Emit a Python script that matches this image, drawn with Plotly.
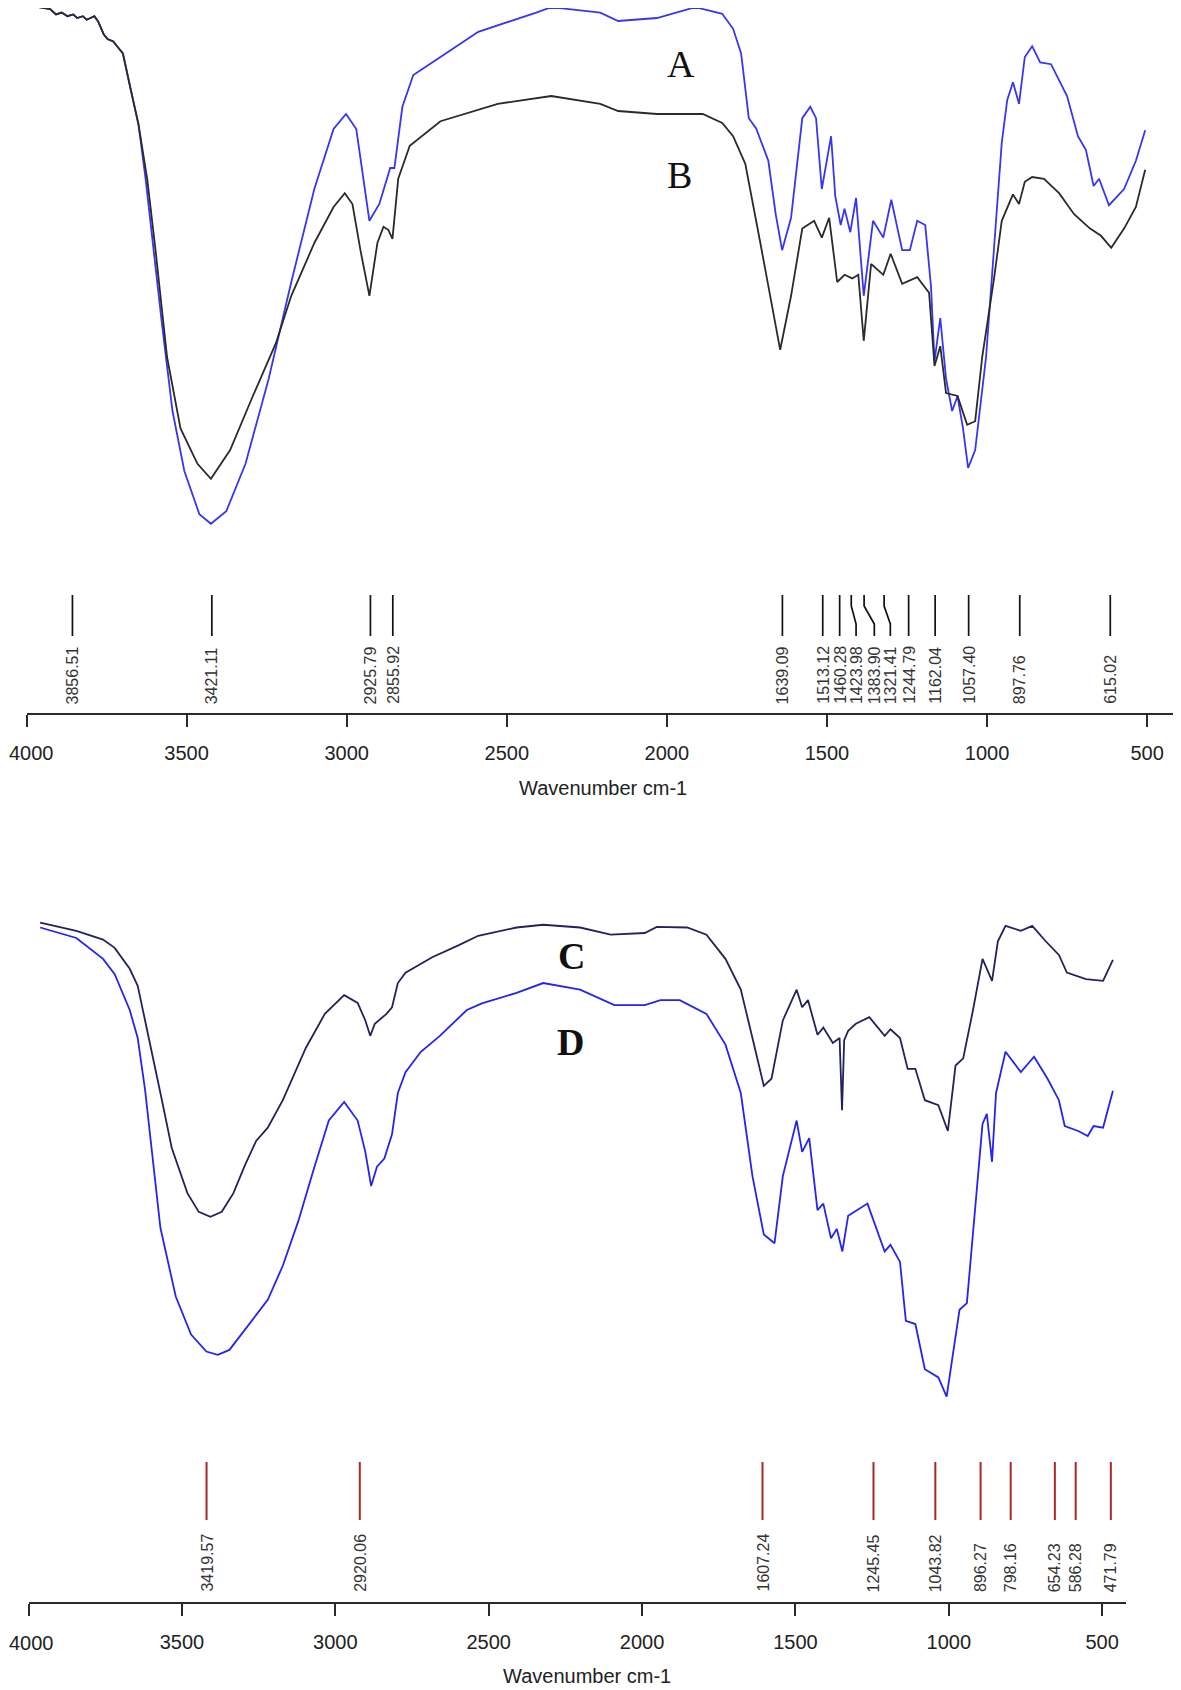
import plotly.graph_objects as go

# ---------------- data ----------------
# Panel 1: spectra A (blue) and B (black); wavenumber in cm-1, transmittance (arb. %)
A_wn = [3998, 3962, 3926, 3908, 3890, 3872, 3854, 3842, 3824, 3812, 3800, 3788, 3776, 3759, 3747,
        3729, 3717, 3699, 3675, 3650, 3628, 3603, 3578, 3544, 3507, 3460, 3424, 3376,
        3316, 3244, 3173, 3101, 3041, 3002, 2970, 2929, 2898, 2864, 2851, 2826, 2792, 2707, 2589,
        2408, 2361, 2208, 2152, 2031, 1911, 1827, 1793, 1768, 1744, 1721, 1683, 1660, 1640, 1612,
        1577, 1552, 1534, 1516, 1487, 1474, 1457, 1445, 1427, 1409, 1385, 1356, 1324, 1299, 1265,
        1241, 1218, 1193, 1175, 1164, 1146, 1128, 1109, 1092, 1075, 1059, 1037, 1003, 978, 954,
        937, 919, 900, 882, 859, 834, 800, 750, 716, 691, 667, 650, 619, 572, 535, 506]
A_T = [99.4, 98.8, 98.5, 97.6, 97.9, 97.3, 97.6, 97.0, 97.3, 96.7, 97.0, 97.3, 96.4, 94.3, 93.5,
       93.1, 92.3, 91.1, 85.2, 79.2, 70.2, 58.3, 46.5, 31.5, 21.5, 14.3, 12.7, 14.8,
       22.7, 36.8, 53.0, 68.5, 78.5, 81.0, 78.5, 63.2, 66.0, 72.0, 72.0, 82.2, 87.5, 90.5, 94.7,
       97.9, 98.8, 97.9, 96.5, 97.0, 98.8, 97.7, 95.2, 91.1, 80.3, 78.6, 73.2, 64.3, 58.3, 63.7,
       80.3, 82.2, 80.3, 68.5, 77.3, 67.3, 62.5, 65.2, 61.3, 67.0, 50.7, 63.2, 60.4, 66.7, 58.3,
       58.3, 63.2, 62.5, 52.3, 39.8, 47.0, 36.9, 31.5, 34.0, 28.6, 22.0, 25.0, 40.5, 58.3, 76.2,
       83.3, 86.3, 82.7, 90.5, 92.3, 89.6, 89.3, 84.0, 77.3, 75.0, 69.0, 70.2, 65.8, 68.5, 73.2, 78.3]

B_wn = [3998, 3962, 3926, 3908, 3890, 3872, 3854, 3842, 3824, 3812, 3800, 3788, 3776, 3759, 3747,
        3729, 3717, 3699, 3675, 3650, 3623, 3597, 3561, 3519, 3466, 3424, 3364, 3293,
        3221, 3173, 3101, 3041, 3006, 2982, 2957, 2929, 2904, 2885, 2870, 2857, 2839, 2803, 2707,
        2528, 2361, 2208, 2152, 2031, 1888, 1827, 1793, 1755, 1708, 1672, 1646, 1612, 1577, 1540,
        1516, 1493, 1468, 1445, 1421, 1402, 1385, 1362, 1324, 1301, 1265, 1218, 1181, 1164, 1146,
        1128, 1092, 1062, 1037, 1015, 978, 954, 919, 900, 882, 859, 822, 775, 728, 678, 644, 612,
        572, 535, 506]
B_T = [99.4, 98.8, 98.5, 97.6, 97.9, 97.3, 97.6, 97.0, 97.3, 96.7, 97.0, 97.3, 96.4, 94.3, 93.5,
       93.1, 92.3, 91.1, 85.2, 79.2, 70.2, 58.3, 40.5, 28.6, 22.7, 20.2, 25.0, 34.0,
       42.8, 50.7, 59.5, 65.5, 67.8, 66.0, 58.3, 50.7, 59.5, 62.2, 61.7, 60.2, 70.2, 75.7, 79.8,
       82.7, 84.0, 82.7, 81.5, 81.0, 81.0, 79.5, 77.3, 72.7, 59.5, 49.4, 41.7, 50.7, 61.9, 63.2,
       60.4, 63.7, 53.0, 54.2, 53.6, 54.2, 43.2, 56.0, 54.2, 57.7, 52.7, 53.8, 51.2, 39.0, 42.3,
       34.5, 34.0, 29.2, 29.8, 40.5, 53.6, 63.2, 67.6, 66.0, 69.7, 70.5, 70.2, 67.8, 64.3, 61.9,
       60.7, 58.7, 61.9, 65.5, 71.7]

# Panel 2: spectra C (navy) and D (blue)
C_wn = [3962, 3844, 3757, 3719, 3670, 3644, 3620, 3595, 3570, 3533, 3482, 3445, 3407, 3370, 3332,
        3295, 3258, 3220, 3171, 3096, 3034, 2971, 2927, 2902, 2886, 2871, 2833, 2815, 2796, 2771,
        2684, 2597, 2534, 2409, 2322, 2202, 2102, 1991, 1952, 1853, 1790, 1728, 1678, 1640, 1603,
        1578, 1541, 1496, 1478, 1459, 1428, 1409, 1378, 1356, 1348, 1341, 1328, 1303, 1259, 1209,
        1190, 1159, 1134, 1109, 1078, 1034, 1003, 978, 953, 921, 890, 859, 840, 815, 765, 728, 684,
        641, 615, 553, 497, 465]
C_T = [95.9, 94.4, 92.8, 91.3, 87.5, 84.4, 78.1, 71.8, 64.9, 54.9, 46.7, 43.3, 42.4, 43.3, 46.7,
       51.7, 56.2, 58.6, 63.6, 73.1, 79.3, 82.7, 81.3, 78.1, 75.3, 77.5, 79.3, 80.5, 84.9, 86.8,
       89.6, 91.8, 93.5, 95.0, 95.5, 95.0, 93.7, 94.0, 95.1, 95.0, 93.7, 89.3, 83.7, 74.9, 66.2,
       67.5, 78.1, 83.7, 80.5, 81.8, 75.5, 76.8, 74.0, 74.9, 61.8, 74.5, 76.2, 77.5, 78.7, 75.3,
       76.5, 74.9, 69.3, 69.3, 63.6, 62.7, 58.0, 69.9, 71.2, 80.0, 89.3, 85.3, 92.5, 95.3, 94.4,
       95.3, 92.5, 90.0, 86.8, 85.6, 85.3, 89.1]

D_wn = [3962, 3844, 3757, 3719, 3670, 3644, 3620, 3595, 3570, 3520, 3470, 3420, 3383, 3345, 3282,
        3220, 3171, 3120, 3070, 3021, 2971, 2927, 2902, 2883, 2864, 2840, 2815, 2796, 2771, 2721,
        2659, 2571, 2522, 2409, 2322, 2202, 2090, 1991, 1940, 1877, 1790, 1728, 1678, 1640, 1603,
        1568, 1541, 1496, 1478, 1455, 1428, 1409, 1384, 1365, 1347, 1328, 1265, 1209, 1190, 1159,
        1140, 1109, 1078, 1034, 1007, 984, 965, 941, 915, 890, 876, 859, 846, 815, 765, 722, 678,
        641, 622, 578, 547, 528, 497, 465]
D_T = [95.0, 93.1, 89.3, 86.5, 80.0, 74.9, 65.5, 53.0, 40.4, 27.9, 21.0, 17.9, 17.3, 18.2, 22.9,
       27.3, 33.5, 41.7, 51.1, 59.9, 63.3, 59.9, 54.2, 48.0, 51.5, 53.0, 57.4, 64.9, 68.7, 72.4,
       75.3, 80.0, 81.2, 83.1, 84.9, 83.7, 80.9, 80.9, 81.8, 81.8, 79.3, 73.7, 64.9, 49.8, 39.2,
       37.6, 49.8, 59.9, 54.2, 56.7, 43.6, 44.8, 38.5, 40.2, 36.1, 42.6, 44.8, 36.1, 37.3, 34.2,
       23.5, 22.9, 14.7, 13.2, 9.7, 18.5, 25.5, 26.7, 43.6, 59.3, 61.1, 52.4, 64.9, 72.4, 68.7,
       71.5, 67.5, 63.6, 58.9, 58.0, 57.1, 58.9, 58.6, 65.3]

top_peaks = [3856.51, 3421.11, 2925.79, 2855.92, 1639.09, 1513.12, 1460.28, 1423.98, 1383.90,
             1321.41, 1244.79, 1162.04, 1057.40, 897.76, 615.02]
bottom_peaks = [3419.57, 2920.06, 1607.24, 1245.45, 1043.82, 896.27, 798.16, 654.23, 586.28, 471.79]

tick_vals = [4000, 3500, 3000, 2500, 2000, 1500, 1000, 500]
x_title = "Wavenumber cm-1"

# ---------------- layout helpers ----------------
# the page body has an 8px default margin: the figure is offset by it, so the
# layout is given in page pixels and converted to figure-paper coordinates.
OFF = 8
W, H = 1181 - OFF, 1682


def fx(p):
    return (p - OFF) / W


def fy(p):
    return 1 - (p - OFF) / H


# top panel: T = (600 - page_y) / 6 ; its plot area starts at the figure top (page y = OFF)
top_range = [0, (600 - OFF) / 6]

# label positions of crowded peaks (where the connector line bends to)
label_shift = {1423.98: 1409, 1383.90: 1352, 1321.41: 1302}

# the leftmost tick label sits on the page edge -> drawn as an annotation
tick_text = ["" if v == tick_vals[0] else str(v) for v in tick_vals]

fig = go.Figure()
fig.add_trace(go.Scatter(x=A_wn, y=A_T, mode="lines", line=dict(color="#3636f2", width=1.8),
                         xaxis="x", yaxis="y", showlegend=False, name="A"))
fig.add_trace(go.Scatter(x=B_wn, y=B_T, mode="lines", line=dict(color="#2a2a2a", width=1.8),
                         xaxis="x", yaxis="y", showlegend=False, name="B"))
fig.add_trace(go.Scatter(x=C_wn, y=C_T, mode="lines", line=dict(color="#22225e", width=1.8),
                         xaxis="x2", yaxis="y2", showlegend=False, name="C"))
fig.add_trace(go.Scatter(x=D_wn, y=D_T, mode="lines", line=dict(color="#2424f0", width=1.8),
                         xaxis="x2", yaxis="y2", showlegend=False, name="D"))

axis_font = dict(family="Liberation Sans, Arial, sans-serif", size=20, color="#222222")
common_x = dict(showline=True, linecolor="#2a2a2a", linewidth=2, ticks="outside", ticklen=12,
                tickwidth=2, tickcolor="#2a2a2a", tickvals=tick_vals, ticktext=tick_text,
                showgrid=False, zeroline=False, tickfont=axis_font, ticklabelstandoff=9,
                fixedrange=True, automargin=False)

fig.update_layout(
    template="none",
    width=W, height=H, margin=dict(l=0, r=0, t=0, b=0, pad=0, autoexpand=False),
    paper_bgcolor="white", plot_bgcolor="rgba(0,0,0,0)",
    xaxis=dict(domain=[fx(26.5), fx(1178)], range=[4000, 403.5], anchor="free",
               position=fy(714), **common_x),
    yaxis=dict(domain=[fy(600), 1], range=top_range, visible=False, anchor="x",
               automargin=False),
    xaxis2=dict(domain=[fx(28.5), fx(1126)], range=[4000, 422.3], anchor="free",
                position=fy(1603), **common_x),
    yaxis2=dict(domain=[fy(1450), fy(900)], range=[0, 100], visible=False, anchor="x2",
                automargin=False),
)

shapes = []
annotations = []
lab_font = dict(family="Liberation Sans, Arial, sans-serif", size=16, color="#333333")

for p in top_peaks:
    lx = label_shift.get(p, p)
    if lx == p:
        shapes.append(dict(type="line", xref="x", yref="paper", x0=p, x1=p,
                           y0=fy(595), y1=fy(636), line=dict(color="#111111", width=1.7)))
    else:
        path = (f"M {p},{fy(595)} L {p},{fy(606)} L {lx},{fy(624)} L {lx},{fy(636)}")
        shapes.append(dict(type="path", xref="x", yref="paper", path=path,
                           line=dict(color="#111111", width=1.7)))
    annotations.append(dict(x=lx, xref="x", y=fy(706), yref="paper", text=f"{p:.2f}",
                            textangle=-90, xanchor="center", yanchor="bottom",
                            showarrow=False, font=lab_font))

for p in bottom_peaks:
    shapes.append(dict(type="line", xref="x2", yref="paper", x0=p, x1=p,
                       y0=fy(1462), y1=fy(1520), line=dict(color="#a52a2a", width=2)))
    annotations.append(dict(x=p, xref="x2", y=fy(1594), yref="paper", text=f"{p:.2f}",
                            textangle=-90, xanchor="center", yanchor="bottom",
                            showarrow=False, font=lab_font))

# leftmost tick labels
for yy in (753, 1643):
    annotations.append(dict(x=0, y=fy(yy), xref="paper", yref="paper", text=str(tick_vals[0]),
                            showarrow=False, font=axis_font, xanchor="left", yanchor="middle",
                            borderpad=0))

# axis titles
annotations.append(dict(x=fx(603), y=fy(788), xref="paper", yref="paper", text=x_title,
                        showarrow=False, font=axis_font, xanchor="center", yanchor="middle"))
annotations.append(dict(x=fx(587), y=fy(1676), xref="paper", yref="paper", text=x_title,
                        showarrow=False, font=axis_font, xanchor="center", yanchor="middle"))

# curve labels
serif = dict(family="Liberation Serif, Times New Roman, serif", size=38, color="#111111")
for txt, xx, yy in [("A", 681, 64), ("B", 679, 175), ("<b>C</b>", 571, 956), ("<b>D</b>", 570, 1042)]:
    annotations.append(dict(x=fx(xx), y=fy(yy), xref="paper", yref="paper", text=txt,
                            showarrow=False, font=serif, xanchor="center", yanchor="middle"))

fig.update_layout(shapes=shapes, annotations=annotations)
fig.write_html("out.html")
